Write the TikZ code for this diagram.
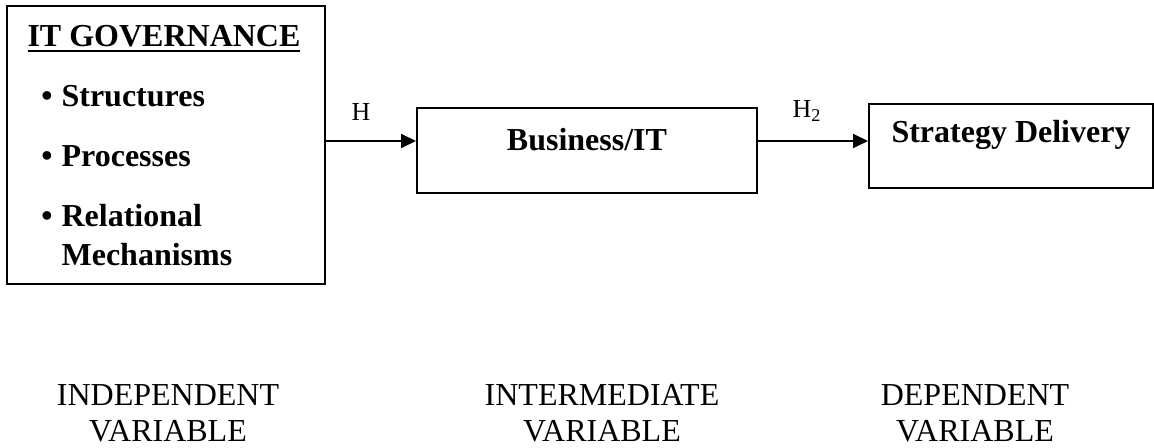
\documentclass[tikz,border=0pt]{standalone}
\usepackage{fontspec}
\setmainfont{Liberation Serif}
\usetikzlibrary{arrows.meta}
\newcommand{\thickuline}[1]{\setbox0=\hbox{#1}\rlap{\rule[-2.5pt]{\wd0}{1pt}}\box0}

\begin{document}
\begin{tikzpicture}[x=0.5pt, y=0.5pt,
    stage/.style={draw, line width=1pt, inner sep=0pt,
                  font=\fontsize{16}{18}\selectfont\bfseries},
    govitem/.style={anchor=base west, inner sep=0pt, align=left,
                    font=\fontsize{16}{19}\selectfont\bfseries},
    arrow/.style={-{Triangle[length=7.5pt,width=7pt]}, line width=0.9pt},
    hyp/.style={inner sep=0pt, font=\fontsize{13}{13}\selectfont},
    varlabel/.style={anchor=base, align=center, inner sep=0pt,
                     font=\fontsize{16}{18}\selectfont}]
  \useasboundingbox (0,0) rectangle (1154,-448);
  % independent variable box
  \node[stage, minimum width=159pt, minimum height=139pt] (gov) at (166,-145) {};
  \node[govitem, anchor=base] (govtitle) at (164,-47) {\thickuline{IT GOVERNANCE}};
  \node[govitem] (structures) at (41,-107) {\textbullet\hspace{4.5pt}Structures};
  \node[govitem] (processes) at (41,-167) {\textbullet\hspace{4.5pt}Processes};
  \node[govitem] (relational) at (41,-265)
    {\textbullet\hspace{4.5pt}Relational\\\phantom{\textbullet}\hspace{4.5pt}Mechanisms};
  % other boxes
  \node[stage, minimum width=170pt, minimum height=42.5pt,
        text height=6pt, text depth=6pt] (align) at (587,-150.5) {Business/IT};
  \node[stage, minimum width=142pt, minimum height=42pt,
        text height=6pt, text depth=9pt] (delivery) at (1011,-146) {Strategy Delivery};
  % hypotheses
  \coordinate (arrowrow) at (0,-141);
  \draw[arrow] (gov.east |- arrowrow) -- (align.west |- arrowrow);
  \draw[arrow] (align.east |- arrowrow) -- (delivery.west |- arrowrow);
  \node[hyp] (h1) at (361,-112) {H};
  \node[hyp] (h2) at (807,-111) {H\textsubscript{2}};
  % variable labels
  \node[varlabel] (indep) at (168,-441) {INDEPENDENT\\VARIABLE};
  \node[varlabel] (inter) at (602,-441) {INTERMEDIATE\\VARIABLE};
  \node[varlabel] (dep) at (975,-441) {DEPENDENT\\VARIABLE};
\end{tikzpicture}
\end{document}
